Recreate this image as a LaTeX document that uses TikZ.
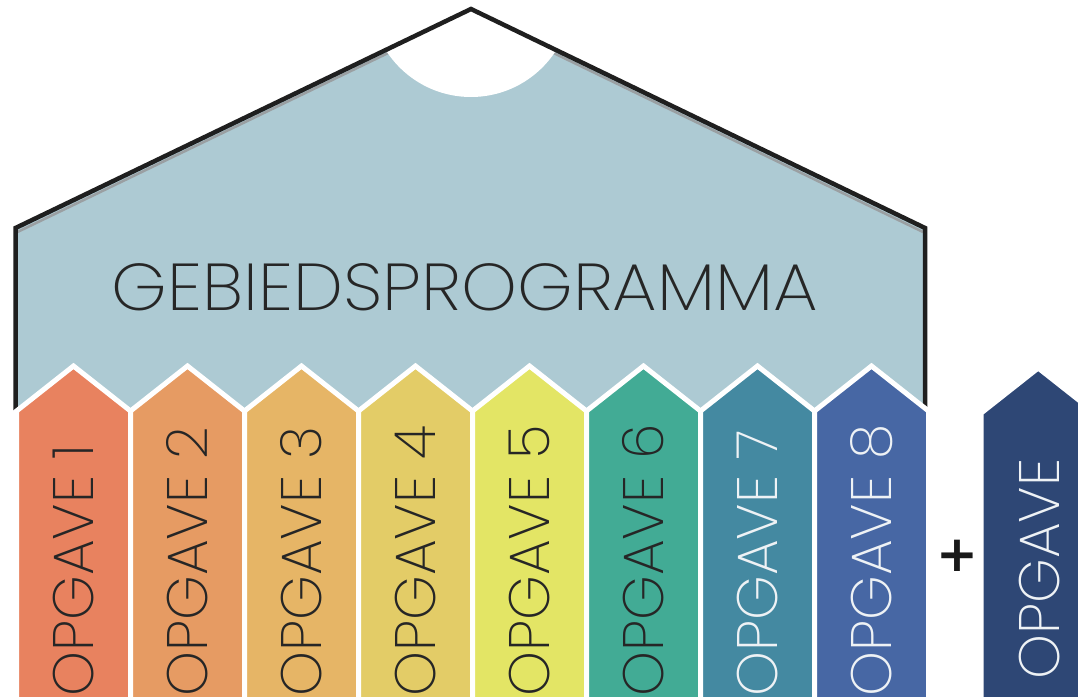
\documentclass[tikz,border=0pt]{standalone}
\usepackage{fontspec}
\setmainfont{Poppins}[UprightFont=* ExtraLight]
\newfontfamily\plusfont{DejaVu Sans}
\usepackage{graphicx}
\definecolor{housefill}{HTML}{ADCAD3}
\definecolor{shadowgray}{HTML}{9A9FA2}
\definecolor{c1}{HTML}{E8825F}
\definecolor{c2}{HTML}{E69B63}
\definecolor{c3}{HTML}{E6B566}
\definecolor{c4}{HTML}{E3CC67}
\definecolor{c5}{HTML}{E3E565}
\definecolor{c6}{HTML}{42AB95}
\definecolor{c7}{HTML}{4489A1}
\definecolor{c8}{HTML}{4767A4}
\definecolor{c9}{HTML}{2E4775}
\definecolor{darktxt}{HTML}{262626}
\definecolor{lighttxt}{HTML}{EEF2F5}
\tikzset{
  pencil/.style={draw=white, line width=5pt, line join=miter},
  lbl/.style={rotate=90, anchor=west, inner sep=0pt, font=\fontsize{57}{57}\selectfont},
  outline/.style={draw=black!88, line width=4.5pt, line join=miter},
}
\begin{document}
\begin{tikzpicture}[x=1pt,y=-1pt]
\useasboundingbox (0,0) rectangle (1078,696);
% house body
\fill[housefill] (15.5,228) -- (471,9) -- (925,228) -- (925,414) -- (15.5,414) -- cycle;
\draw[shadowgray, line width=2.5pt] (17.5,232) -- (471,13) -- (923,232);
\fill[white] (471,-4) circle (101);
\draw[outline] (15.5,410) -- (15.5,228) -- (471,9) -- (925,228) -- (925,410);
\node[anchor=base, inner sep=0pt, text=darktxt] (title) at (465,310) {\resizebox{706pt}{47pt}{GEBIEDSPROGRAMMA}};
% pencils
\foreach \i/\col/\tc in {0/c1/darktxt,1/c2/darktxt,2/c3/darktxt,3/c4/darktxt,4/c5/darktxt,5/c6/darktxt,6/c7/lighttxt,7/c8/lighttxt}{
  \pgfmathsetmacro{\L}{16.5+114*\i}
  \pgfmathsetmacro{\C}{\L+57}
  \pgfmathsetmacro{\R}{\L+114}
  \pgfmathtruncatemacro{\n}{\i+1}
  \filldraw[pencil, fill=\col] (\L,705) -- (\L,411) -- (\C,366) -- (\R,411) -- (\R,705) -- cycle;
  \node[lbl, text=\tc] (p\n) at (\C,697) {OPGAVE \n};
}
\filldraw[pencil, fill=c9] (981.2,705) -- (981.2,413) -- (1038.2,368) -- (1095.2,413) -- (1095.2,705) -- cycle;
\node[lbl, text=lighttxt] (p9) at (1040,680) {OPGAVE};
\node[inner sep=0pt, font=\plusfont\bfseries\fontsize{50}{50}\selectfont, text=black!90] (plus) at (957,556) {+};
\end{tikzpicture}
\end{document}
